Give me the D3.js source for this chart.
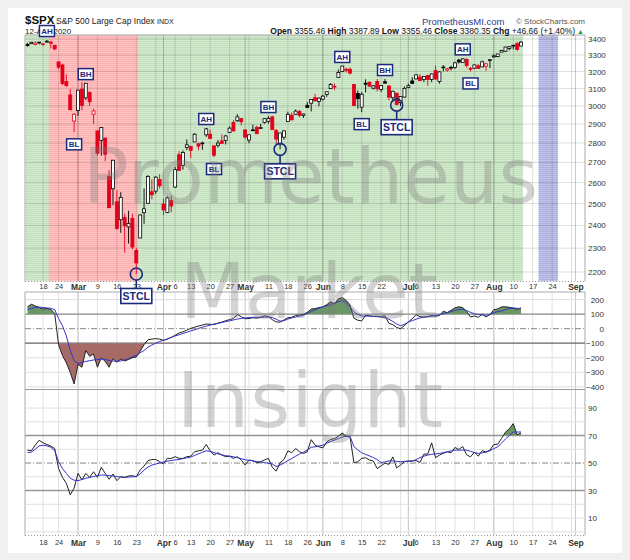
<!DOCTYPE html>
<html>
<head>
<meta charset="utf-8">
<script src="https://cdn.jsdelivr.net/npm/d3@7"></script>
<style>
  body { margin: 0; background: #f0f0f0; }
  svg { display: block; font-family: "Liberation Sans", Arial, sans-serif; }
  text { white-space: pre; }
</style>
</head>
<body>
<svg id="chart" width="630" height="560"></svg>
<script>
// trading calendar
const holidays = ["2020-02-17", "2020-04-10", "2020-05-25", "2020-07-03", "2020-09-07"];
const firstDay = "2020-02-11";

// $SPX daily candles, 11-Feb-2020 .. 12-Aug-2020
const openV = [3365.87,3370.50,3365.90,3378.08,3369.04,3380.39,3380.45,3360.50,3257.61,3238.94,
3139.90,3062.54,2916.90,2974.28,3096.46,3045.75,3075.70,2954.20,2863.89,2813.48,
2825.60,2630.86,2569.99,2508.59,2425.66,2436.50,2393.48,2431.94,2290.71,2344.44,
2457.77,2501.29,2555.87,2558.98,2614.69,2498.08,2458.54,2514.92,2578.28,2738.65,
2685.00,2776.99,2782.46,2805.10,2795.64,2799.34,2842.43,2845.62,2784.81,2787.89,
2810.42,2812.64,2854.65,2909.96,2918.46,2930.91,2869.09,2815.01,2868.88,2883.14,
2878.26,2908.83,2915.46,2939.50,2865.86,2794.54,2829.95,2913.86,2948.59,2953.63,
2969.95,2948.05,3004.08,3015.65,3046.61,3025.17,3038.78,3064.78,3098.90,3111.56,
3163.84,3199.92,3213.32,3213.42,3123.53,3071.04,2993.76,3131.00,3136.13,3101.64,
3140.29,3094.42,3138.70,3114.40,3046.60,3073.20,3018.59,3050.20,3105.92,3143.64,
3155.29,3166.44,3153.07,3176.17,3152.47,3205.08,3141.11,3225.98,3208.36,3224.21,
3224.29,3268.52,3254.86,3271.64,3218.58,3219.84,3234.27,3227.22,3231.76,3270.45,
3288.26,3289.92,3317.37,3323.17,3340.05,3356.04,3370.34,3355.46];
const highV = [3375.63,3381.47,3385.09,3380.69,3375.01,3393.52,3389.15,3360.76,3259.81,3246.99,
3182.51,3097.07,2959.72,3090.96,3136.72,3130.97,3083.04,2985.93,2863.89,2882.59,
2825.60,2660.95,2711.33,2562.98,2553.93,2453.57,2466.97,2453.01,2300.73,2449.71,
2571.42,2637.01,2615.91,2631.80,2641.39,2522.75,2533.22,2538.18,2676.85,2756.89,
2760.75,2818.57,2782.46,2851.85,2801.88,2806.51,2879.22,2868.98,2785.54,2815.10,
2844.90,2842.71,2887.72,2921.15,2954.86,2930.91,2869.09,2844.24,2898.23,2891.11,
2901.92,2932.16,2944.25,2945.82,2874.14,2852.80,2865.01,2968.09,2964.21,2980.29,
2978.50,2956.76,3021.72,3036.25,3068.67,3049.17,3062.18,3081.07,3130.94,3128.91,
3211.72,3233.13,3222.71,3223.27,3123.53,3088.42,3079.76,3153.45,3141.16,3120.00,
3155.53,3120.92,3154.90,3115.01,3086.25,3073.73,3053.89,3111.51,3128.44,3165.81,
3182.59,3184.15,3171.80,3179.78,3186.82,3235.32,3200.95,3238.28,3220.39,3233.52,
3258.61,3277.29,3279.32,3279.99,3227.26,3241.43,3243.72,3264.74,3250.92,3272.17,
3302.73,3306.84,3330.77,3351.03,3352.54,3363.29,3381.01,3387.89];
const lowV = [3352.72,3369.72,3360.52,3366.15,3355.61,3378.83,3341.02,3328.45,3214.65,3118.77,
3108.99,2977.39,2855.84,2945.19,2976.63,3034.38,2999.83,2901.54,2734.43,2734.00,
2707.22,2478.86,2492.37,2380.94,2367.04,2280.52,2319.78,2295.56,2191.86,2344.44,
2407.53,2500.72,2520.02,2545.28,2571.15,2447.49,2455.79,2459.96,2574.57,2657.67,
2663.30,2762.36,2721.17,2805.10,2761.54,2764.32,2830.88,2820.43,2727.10,2775.95,
2794.26,2791.76,2852.89,2860.71,2912.16,2892.47,2821.61,2797.85,2863.55,2847.65,
2876.48,2902.88,2903.44,2869.59,2793.15,2766.64,2816.78,2913.86,2922.35,2953.63,
2938.57,2933.59,2988.17,2969.75,3023.40,2998.61,3031.54,3051.64,3098.90,3090.41,
3163.84,3196.00,3193.11,3181.49,2999.49,2984.47,2965.66,3076.06,3108.03,3093.51,
3083.11,3079.39,3127.12,3032.13,3024.01,3004.63,2999.74,3047.83,3101.17,3124.52,
3155.29,3142.93,3136.53,3115.70,3136.22,3149.43,3127.66,3200.76,3198.59,3205.65,
3215.16,3247.77,3253.10,3222.66,3200.05,3214.25,3216.17,3227.22,3204.13,3220.26,
3284.53,3286.37,3317.37,3318.14,3328.72,3335.44,3326.44,3355.46];
const closeV = [3357.75,3379.45,3373.94,3380.16,3370.29,3386.15,3373.23,3337.75,3225.89,3128.21,
3116.39,2978.76,2954.22,3090.23,3003.37,3130.12,3023.94,2972.37,2746.56,2882.23,
2741.38,2480.64,2711.02,2386.13,2529.19,2398.10,2409.39,2304.92,2237.40,2447.33,
2475.56,2630.07,2541.47,2626.65,2584.59,2470.50,2526.90,2488.65,2663.68,2659.41,
2749.98,2789.82,2761.63,2846.06,2783.36,2799.55,2874.56,2823.16,2736.56,2799.31,
2797.80,2836.74,2878.48,2863.39,2939.51,2912.43,2830.71,2842.74,2868.44,2848.42,
2881.19,2929.80,2930.19,2870.12,2820.00,2852.50,2863.70,2953.91,2922.94,2971.61,
2948.51,2955.45,2991.77,3036.13,3029.73,3044.31,3055.73,3080.82,3122.87,3112.35,
3193.93,3232.39,3207.18,3190.14,3002.10,3041.31,3066.59,3124.74,3113.49,3115.34,
3097.74,3117.86,3131.29,3050.33,3083.76,3009.05,3053.24,3100.29,3115.86,3130.01,
3179.72,3145.32,3169.94,3152.05,3185.04,3155.22,3197.52,3226.56,3215.57,3224.73,
3251.84,3257.30,3276.02,3235.66,3215.63,3239.41,3218.44,3258.44,3246.22,3271.12,
3294.61,3306.51,3327.77,3349.16,3351.28,3360.47,3333.69,3380.35];
const prevClose = 3352.09;

// CCI (black) and its signal (blue)
const cciVals = [150,168,156,145,135,140,132,105,-110,-185,
-235,-300,-380,-245,-265,-150,-190,-175,-265,-200,
-225,-265,-205,-230,-210,-222,-212,-200,-195,-155,
-110,-76,-72,-68,-72,-80,-70,-60,-45,-30,
-22,-10,2,10,18,25,32,30,28,38,
45,55,62,70,97,82,68,70,75,72,
78,88,82,62,46,45,60,75,78,90,
94,98,112,135,138,145,150,165,185,172,
205,212,195,162,72,58,53,92,88,86,
85,84,88,36,28,8,0,22,46,68,
97,82,80,84,90,86,90,120,110,126,
143,150,145,118,80,88,78,100,80,97,
130,136,150,150,147,140,133,143];
const cciSig = [133,138,145,148,146,142,140,130,70,20,
-50,-150,-220,-240,-232,-225,-220,-215,-212,-210,
-212,-218,-222,-225,-222,-215,-205,-192,-182,-165,
-150,-128,-112,-100,-88,-80,-72,-60,-50,-42,
-33,-25,-15,-8,2,10,18,24,32,36,
42,48,54,60,66,70,74,76,78,78,
79,80,80,76,65,52,55,66,74,80,
86,92,105,118,130,140,150,158,165,175,
185,192,180,150,115,98,87,87,86,84,
82,80,76,65,50,32,20,30,46,55,
65,74,78,82,86,90,96,102,110,118,
125,132,133,125,112,103,98,94,92,98,
108,118,122,132,138,143,140,138];

// RSI (black) and its signal (blue)
const rsiVals = [59.4,58.9,63,66.6,64.7,63.5,62.3,60.6,46,39.6,
35.3,26.9,31.7,42.5,37.7,42.5,39.6,43.7,39.6,46.9,
42.5,38.2,42,37.2,40.1,39.6,40.6,40.8,40.1,45,
47.8,51.7,52.6,52.6,51,49.3,53.4,53.4,54.6,53.4,
53.4,54.6,55,58.2,58.9,59.4,63.5,58.9,55.8,57.5,
55.8,54.6,55,53.4,54.6,52.2,48.6,52.2,51.7,50.2,
51,52.2,53.4,46.9,44.2,50.2,52.6,58.9,57.5,60.6,
58.2,57,58.2,67,63,61.8,61,65.4,67.1,67.8,
69.5,71.9,69.5,69,50.2,51,53.4,53.9,52.2,51.4,
46,48,50,49,54.5,46.5,48.5,51,51.5,51.5,
51.8,50.5,56.5,56.5,64.7,53.9,55.8,57,58.2,57.5,
61.3,59.9,62,56,54.5,58,55,59,58,59.4,
63.5,63.7,68,72.5,75,78.7,70.5,72];
const rsiSig = [57.5,58,60,62.5,63,62.5,61.5,59,51,46,
42.5,39,37.5,37.2,38,38.9,39.5,40.2,41,41.3,
41.2,40.9,40.6,40.2,39.8,39.6,39.8,40,40.1,42,
45,47,48.5,49.3,50,50.8,51.4,51.9,52.3,52.6,
53.2,53.8,54.4,55.5,56.7,57.8,58.9,58.5,57.6,56.7,
56,55.4,55,54.6,53.9,53.2,52.4,52,51.6,51.1,
50.7,50.3,49.8,49.3,47.5,48.5,50,51.8,53.3,55,
56.5,58,59.5,61.5,61.8,62.4,63,64.3,65.7,66.7,
67.8,69,69.5,69.5,62,59.5,57.5,56.3,55.2,54,
52.5,50.3,50.8,51.6,51.5,51.2,51,51.2,51.3,51.4,
52.5,54,55,55.8,56.4,56.7,57,57.6,58.2,58.8,
59.4,59.4,59.4,59.4,58.5,57.7,57,57.4,58,59,
60.5,61.8,64.5,67.5,70,72.6,72.6,72.6];

const priceTicks = [2200,2300,2400,2500,2600,2700,2800,2900,3000,3100,3200,3300,3400];
const cciTicks = [200,100,0,-100,-200,-300,-400];
const rsiTicks = [90,70,50,30,10];
const quote = [["Open", "3355.46"], ["High", "3387.89"], ["Low", "3355.46"], ["Close", "3380.35"], ["Chg", "+46.66 (+1.40%)"]];

const notes = [
  { day: "2020-02-19", label: "AH" }, { day: "2020-02-28", label: "BL" },
  { day: "2020-03-04", label: "BH" }, { day: "2020-03-23", label: "STCL" },
  { day: "2020-04-17", label: "AH" }, { day: "2020-04-21", label: "BL" },
  { day: "2020-05-11", label: "BH" }, { day: "2020-05-14", label: "STCL" },
  { day: "2020-06-08", label: "AH" }, { day: "2020-06-15", label: "BL" },
  { day: "2020-06-23", label: "BH" }, { day: "2020-06-26", label: "STCL" },
  { day: "2020-07-22", label: "AH" }, { day: "2020-07-24", label: "BL" }
];
const zones = [
  { from: "2020-02-11", to: "2020-08-12", fill: "url(#stGreen)" },
  { from: "2020-02-20", to: "2020-03-23", fill: "url(#stRed)" },
  { from: "2020-08-19", to: "2020-08-25", fill: "url(#stBlue)" }
];

// ---------- layout ----------
const L = 25, R = 585;
const pTop = 35, pBot = 281.5, cTop = 292, cBot = 389.5, rTop = 389.5, rBot = 535.5;
const navy = "#1b2a7a";

const svg = d3.select("#chart");
const defs = svg.append("defs");

svg.append("rect").attr("x", 8).attr("y", 8).attr("width", 614).attr("height", 545).attr("fill", "#fff");

// calendar -> index (0 = first candle)
const parse = d3.utcParse("%Y-%m-%d"), fmt = d3.utcFormat("%Y-%m-%d");
const days = d3.utcDays(parse("2020-02-10"), parse("2020-09-05"))
  .filter(d => d.getUTCDay() % 6 !== 0 && !holidays.includes(fmt(d)));
const i0 = days.findIndex(d => fmt(d) === firstDay);
const idxOf = s => days.findIndex(d => fmt(d) === s) - i0;
const dayAt = i => days[i + i0];

// scales
const x = d3.scaleLinear().domain([-0.64, 143.46]).range([L, R]);
const y = d3.scaleLog().domain([2161.3, 3425.5]).range([pBot, pTop]);
const yC = d3.scaleLinear().domain([-418, 252]).range([cBot, cTop]);
const yR = d3.scaleLinear().domain([-2.7, 103.5]).range([rBot, rTop]);
const [xMin, xMax] = x.domain();

// week / month starts
const weekStarts = [], monthStarts = [];
days.forEach((d, k) => {
  if (k === 0) return;
  const p = days[k - 1], i = k - i0;
  if (i < xMin || i > xMax) return;
  if (+d3.utcMonday.floor(d) !== +d3.utcMonday.floor(p)) weekStarts.push(i);
  if (d.getUTCMonth() !== p.getUTCMonth()) monthStarts.push(i);
});
// a week label gives way to a month label that is close to it
const xTicks = Array.from(new Set(monthStarts.concat(
  weekStarts.filter(i => !monthStarts.some(m => m - i >= -1 && m - i <= 2))))).sort((a, b) => a - b);

// stripes
function stripe(id, base, line) {
  const p = defs.append("pattern").attr("id", id)
    .attr("patternUnits", "userSpaceOnUse").attr("width", 4).attr("height", 2);
  p.append("rect").attr("width", 4).attr("height", 2).attr("fill", base);
  p.append("rect").attr("width", 4).attr("height", 0.8).attr("fill", line);
}
stripe("stGreen", "#c3e1be", "#d6ecd2");
stripe("stRed", "#ffb1b1", "#ffc6c6");
stripe("stBlue", "#aeb0dd", "#c6c8ec");

function clip(id, y0, y1) {
  defs.append("clipPath").attr("id", id).append("rect")
    .attr("x", L).attr("y", y0).attr("width", R - L).attr("height", y1 - y0);
}
clip("clipP", pTop, pBot);
clip("clipC", cTop, cBot);
clip("clipR", rTop, rBot);
clip("clipCup", cTop, yC(100));
clip("clipCdn", yC(-100), cBot);
clip("clipRup", rTop, yR(70));

// ---------- price panel ----------
const price = svg.append("g").attr("clip-path", "url(#clipP)");

price.selectAll(".zone").data(zones).join("rect")
  .attr("x", d => Math.max(L, x(idxOf(d.from) - 0.5)))
  .attr("width", d => x(idxOf(d.to) + 0.5) - Math.max(L, x(idxOf(d.from) - 0.5)))
  .attr("y", pTop).attr("height", pBot - pTop)
  .attr("fill", d => d.fill);

price.selectAll(".hg").data(priceTicks).join("line")
  .attr("x1", L).attr("x2", R).attr("y1", d => y(d)).attr("y2", d => y(d))
  .attr("stroke", "rgba(0,0,0,0.13)");
price.selectAll(".wg").data(weekStarts).join("line")
  .attr("x1", d => x(d)).attr("x2", d => x(d)).attr("y1", pTop).attr("y2", pBot)
  .attr("stroke", "rgba(0,0,0,0.12)");
price.selectAll(".mg").data(monthStarts).join("line")
  .attr("x1", d => x(d)).attr("x2", d => x(d)).attr("y1", pTop).attr("y2", pBot)
  .attr("stroke", "rgba(0,0,0,0.22)");

const candles = closeV.map((c, i) => ({
  i, o: openV[i], h: highV[i], l: lowV[i], c,
  color: c < (i ? closeV[i - 1] : prevClose) ? "#e3001b" : "#000"
}));
const bw = 3;
price.selectAll(".wick").data(candles).join("line")
  .attr("x1", d => x(d.i)).attr("x2", d => x(d.i))
  .attr("y1", d => y(d.h)).attr("y2", d => y(d.l))
  .attr("stroke", d => d.color).attr("stroke-width", 0.9);
price.selectAll(".body").data(candles).join("rect")
  .attr("x", d => x(d.i) - bw / 2)
  .attr("y", d => y(Math.max(d.o, d.c)))
  .attr("width", bw)
  .attr("height", d => Math.max(0.8, Math.abs(y(d.o) - y(d.c))))
  .attr("fill", d => d.c >= d.o ? "#fff" : d.color)
  .attr("stroke", d => d.color).attr("stroke-width", 0.8);

// frame
svg.append("line").attr("x1", L).attr("x2", R).attr("y1", pTop).attr("y2", pTop).attr("stroke", "#aaa");
svg.append("line").attr("x1", L).attr("x2", R).attr("y1", pBot).attr("y2", pBot)
  .attr("stroke", "#999").attr("stroke-dasharray", "1,2");
[pTop, cTop].forEach(t => {
  const b = t === pTop ? pBot : rBot;
  svg.append("line").attr("x1", L).attr("x2", L).attr("y1", t).attr("y2", b).attr("stroke", "#aaa");
  svg.append("line").attr("x1", R).attr("x2", R).attr("y1", t).attr("y2", b).attr("stroke", "#aaa");
});

// ---------- CCI panel ----------
const cci = svg.append("g").attr("clip-path", "url(#clipC)");
cci.selectAll(".wg").data(weekStarts).join("line")
  .attr("x1", d => x(d)).attr("x2", d => x(d)).attr("y1", cTop).attr("y2", cBot)
  .attr("stroke", "#e2e2e2");
cci.selectAll(".mg").data(monthStarts).join("line")
  .attr("x1", d => x(d)).attr("x2", d => x(d)).attr("y1", cTop).attr("y2", cBot)
  .attr("stroke", "#c6c6c6");
cci.selectAll(".hg").data([200, -200, -300, -400]).join("line")
  .attr("x1", L).attr("x2", R).attr("y1", d => yC(d)).attr("y2", d => yC(d))
  .attr("stroke", "#dedede");
cci.selectAll(".lv").data([100, -100]).join("line")
  .attr("x1", L).attr("x2", R).attr("y1", d => yC(d)).attr("y2", d => yC(d))
  .attr("stroke", d => d > 0 ? "#888" : "#666").attr("stroke-width", 1.2);
cci.append("line").attr("x1", L).attr("x2", R).attr("y1", yC(0)).attr("y2", yC(0))
  .attr("stroke", "#888").attr("stroke-dasharray", "6,2,1,2");

cci.append("path").datum(cciVals).attr("clip-path", "url(#clipCup)")
  .attr("fill", "#6a9765")
  .attr("d", d3.area().x((d, i) => x(i)).y0(yC(100)).y1(d => yC(d)));
cci.append("path").datum(cciVals).attr("clip-path", "url(#clipCdn)")
  .attr("fill", "#a66b67")
  .attr("d", d3.area().x((d, i) => x(i)).y0(yC(-100)).y1(d => yC(d)));
cci.append("path").datum(cciVals).attr("fill", "none").attr("stroke", "#222").attr("stroke-width", 1)
  .attr("d", d3.line().x((d, i) => x(i)).y(d => yC(d)));
cci.append("path").datum(cciSig).attr("fill", "none").attr("stroke", "#3333c8").attr("stroke-width", 1)
  .attr("d", d3.line().x((d, i) => x(i)).y(d => yC(d)));

svg.append("line").attr("x1", L).attr("x2", R).attr("y1", cTop).attr("y2", cTop).attr("stroke", "#aaa");
svg.append("line").attr("x1", L).attr("x2", R).attr("y1", cBot).attr("y2", cBot).attr("stroke", "#999");

// ---------- RSI panel ----------
const rsi = svg.append("g").attr("clip-path", "url(#clipR)");
rsi.selectAll(".wg").data(weekStarts).join("line")
  .attr("x1", d => x(d)).attr("x2", d => x(d)).attr("y1", rTop).attr("y2", rBot)
  .attr("stroke", "#e2e2e2");
rsi.selectAll(".mg").data(monthStarts).join("line")
  .attr("x1", d => x(d)).attr("x2", d => x(d)).attr("y1", rTop).attr("y2", rBot)
  .attr("stroke", "#c6c6c6");
rsi.selectAll(".hg").data([0, 10, 20, 40, 60, 80, 90]).join("line")
  .attr("x1", L).attr("x2", R).attr("y1", d => yR(d)).attr("y2", d => yR(d))
  .attr("stroke", "#e0e0e0");
rsi.selectAll(".lv").data([70, 30]).join("line")
  .attr("x1", L).attr("x2", R).attr("y1", d => yR(d)).attr("y2", d => yR(d))
  .attr("stroke", "#999").attr("stroke-width", 1.6);
rsi.append("line").attr("x1", L).attr("x2", R).attr("y1", yR(50)).attr("y2", yR(50))
  .attr("stroke", "#888").attr("stroke-dasharray", "6,2,1,2");

rsi.append("path").datum(rsiVals).attr("clip-path", "url(#clipRup)")
  .attr("fill", "#6a9765")
  .attr("d", d3.area().x((d, i) => x(i)).y0(yR(70)).y1(d => yR(d)));
rsi.append("path").datum(rsiVals).attr("fill", "none").attr("stroke", "#222").attr("stroke-width", 1)
  .attr("d", d3.line().x((d, i) => x(i)).y(d => yR(d)));
rsi.append("path").datum(rsiSig).attr("fill", "none").attr("stroke", "#3333c8").attr("stroke-width", 1)
  .attr("d", d3.line().x((d, i) => x(i)).y(d => yR(d)));

svg.append("line").attr("x1", L).attr("x2", R).attr("y1", rBot).attr("y2", rBot)
  .attr("stroke", "#999").attr("stroke-dasharray", "1,2");

// ---------- axes ----------
const isMonth = i => monthStarts.includes(i);
function xAxis(yPos) {
  const g = svg.append("g").attr("transform", `translate(0,${yPos})`)
    .call(d3.axisBottom(x).tickValues(xTicks).tickSize(0).tickPadding(0)
      .tickFormat(i => isMonth(i) ? d3.utcFormat("%b")(dayAt(i)) : d3.utcFormat("%-d")(dayAt(i))));
  g.select(".domain").remove();
  g.attr("font-family", null).attr("font-size", null);
  g.selectAll("text")
    .attr("font-size", i => isMonth(i) ? 8.5 : 7.5)
    .attr("font-weight", i => isMonth(i) ? "bold" : "normal")
    .attr("fill", "#333");
}
xAxis(284);
xAxis(540);

function yAxis(scale, ticks, anchorEnd, fmtF) {
  const g = svg.append("g").attr("transform", `translate(${R},0)`)
    .call(d3.axisRight(scale).tickValues(ticks).tickSize(0).tickPadding(3).tickFormat(fmtF));
  g.select(".domain").remove();
  g.attr("font-family", null).attr("font-size", null);
  g.selectAll("text").attr("font-size", 8).attr("fill", "#333");
  if (anchorEnd) g.selectAll("text").attr("text-anchor", "end").attr("x", 19);
}
yAxis(y, priceTicks, false, d3.format("d"));
yAxis(yC, cciTicks, true, d3.format("d"));
yAxis(yR, rsiTicks, false, d3.format("d"));

// ---------- header ----------
svg.append("text").attr("x", 25).attr("y", 24).attr("font-size", 11.5).attr("font-weight", "bold")
  .attr("fill", "#111").text("$SPX");
const title = svg.append("text").attr("x", 56).attr("y", 23.5).attr("fill", "#222");
title.append("tspan").attr("font-size", 8.5).text("S&P 500 Large Cap Index ");
title.append("tspan").attr("font-size", 7).text("INDX");
svg.append("text").attr("x", 25).attr("y", 33.5).attr("font-size", 8).attr("fill", "#222").text("12-Aug-2020");
svg.append("text").attr("x", 422).attr("y", 24.5).attr("font-size", 9.5).attr("fill", "#2e3c8c").text("PrometheusMI.com");
svg.append("text").attr("x", 585).attr("y", 24).attr("text-anchor", "end").attr("font-size", 8)
  .attr("fill", "#555").text("© StockCharts.com");
const hdr = svg.append("text").attr("x", 584).attr("y", 33.5).attr("text-anchor", "end")
  .attr("font-size", 8.5).attr("fill", "#111");
quote.forEach(([k, v], n) => {
  hdr.append("tspan").attr("font-weight", "bold").text((n ? " " : "") + k + " ");
  hdr.append("tspan").text(v);
});
hdr.append("tspan").attr("fill", "#1f9a2a").attr("font-size", 7).text(" ▲");

// ---------- annotations ----------
notes.forEach(n => {
  const i = idxOf(n.day), cx = x(i), k = candles[i];
  const g = svg.append("g");
  if (n.label === "STCL") {
    const cy = y(k.l);
    g.append("circle").attr("cx", cx).attr("cy", cy).attr("r", 6)
      .attr("fill", "none").attr("stroke", navy).attr("stroke-width", 1.6);
    g.append("line").attr("x1", cx).attr("x2", cx).attr("y1", cy + 6).attr("y2", cy + 14.5)
      .attr("stroke", navy).attr("stroke-width", 1.6);
    g.append("rect").attr("x", cx - 15.5).attr("y", cy + 14.5).attr("width", 31).attr("height", 15)
      .attr("fill", "#fff").attr("stroke", navy).attr("stroke-width", 1.6);
    g.append("text").attr("x", cx).attr("y", cy + 25.8).attr("text-anchor", "middle")
      .attr("font-size", 10.5).attr("font-weight", "bold").attr("fill", navy).text(n.label);
  } else {
    const cy = n.label === "BL" ? y(k.l) + 12 : y(k.h) - 9;
    g.append("rect").attr("x", cx - 7.5).attr("y", cy - 5.5).attr("width", 15).attr("height", 11)
      .attr("fill", "#fff").attr("stroke", navy).attr("stroke-width", 1.5);
    g.append("text").attr("x", cx).attr("y", cy + 3).attr("text-anchor", "middle")
      .attr("font-size", 8).attr("font-weight", "bold").attr("fill", navy).text(n.label);
  }
});

// ---------- watermark ----------
const wm = svg.append("g").attr("pointer-events", "none")
  .attr("font-family", "'DejaVu Sans', sans-serif").attr("font-size", 76)
  .attr("fill", "#7a7a7a").attr("fill-opacity", 0.33);
wm.append("text").attr("x", 83).attr("y", 203).attr("textLength", 455).text("Prometheus");
wm.append("text").attr("x", 180).attr("y", 318).attr("textLength", 258).text("Market");
wm.append("text").attr("x", 177).attr("y", 427).attr("textLength", 266).text("Insight");
</script>
</body>
</html>
